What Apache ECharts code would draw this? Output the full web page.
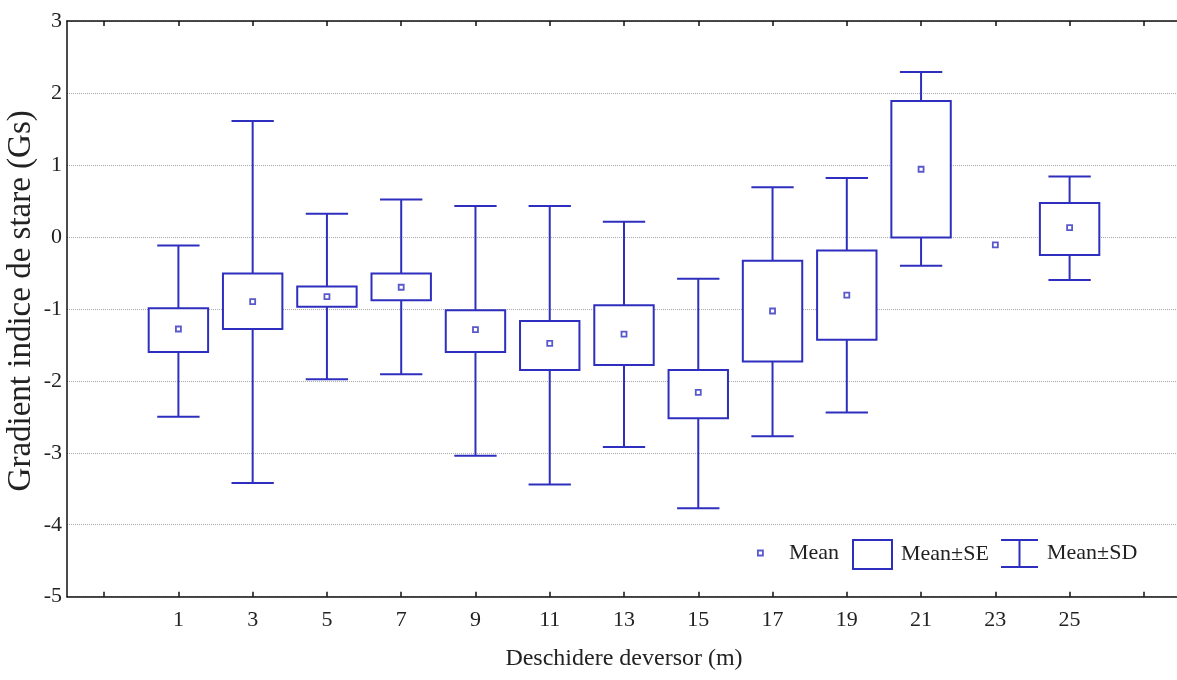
<!DOCTYPE html>
<html>
<head>
<meta charset="utf-8">
<script src="https://cdn.jsdelivr.net/npm/echarts@6/dist/echarts.min.js"></script>
<style>html,body{margin:0;padding:0;background:#fff;}#c{width:1177px;height:680px;}</style>
</head>
<body>
<div id="c"></div>
<script>
// Data
const categories = [1, 3, 5, 7, 9, 11, 13, 15, 17, 19, 21, 23, 25];
const means = [-1.28, -0.90, -0.83, -0.70, -1.29, -1.48, -1.35, -2.16, -1.03, -0.81, 0.94, -0.11, 0.13];
const seMin = [-1.60, -1.28, -0.97, -0.88, -1.60, -1.85, -1.78, -2.52, -1.73, -1.43, -0.01, null, -0.25];
const seMax = [-0.99, -0.51, -0.69, -0.51, -1.02, -1.17, -0.95, -1.85, -0.33, -0.19, 1.89, null, 0.47];
const sdMin = [-2.50, -3.42, -1.98, -1.91, -3.04, -3.44, -2.92, -3.77, -2.77, -2.44, -0.40, null, -0.60];
const sdMax = [-0.12, 1.61, 0.32, 0.52, 0.43, 0.43, 0.21, -0.58, 0.69, 0.82, 2.29, null, 0.84];
const xTicks = [-1, 1, 3, 5, 7, 9, 11, 13, 15, 17, 19, 21, 23, 25, 27];
const xLabels = categories;

const BLUE = '#2f2fbf';
const FONT = 'Liberation Serif';

const meanData = categories.map((c, i) => [c, means[i]]);
const seData = [];
const sdData = [];
categories.forEach((c, i) => {
  if (seMin[i] !== null && seMax[i] !== null) seData.push([c, seMin[i], seMax[i]]);
  if (sdMin[i] !== null && sdMax[i] !== null) sdData.push([c, sdMin[i], seMin[i], seMax[i], sdMax[i]]);
});

const chart = echarts.init(document.getElementById('c'), null, {renderer: 'canvas'});
chart.setOption({
  animation: false,
  backgroundColor: '#fff',
  grid: {left: 67, top: 21, width: 1114, height: 575.7, containLabel: false, outerBoundsMode: 'none'},
  xAxis: [{
    type: 'value', position: 'bottom', min: -2, max: 28,
    name: 'Deschidere deversor (m)', nameLocation: 'middle', nameGap: 50, nameMoveOverlap: false,
    nameTextStyle: {fontFamily: FONT, fontSize: 24, color: '#222'},
    axisLine: {show: true, onZero: false, lineStyle: {color: '#111', width: 1.5}},
    axisTick: {show: true, inside: true, length: 5, customValues: xTicks, lineStyle: {color: '#111', width: 1.5}},
    axisLabel: {show: true, customValues: xLabels, margin: 13, fontFamily: FONT, fontSize: 22, color: '#222'},
    splitLine: {show: false}
  }, {
    type: 'value', position: 'top', min: -2, max: 28,
    axisLine: {show: true, onZero: false, lineStyle: {color: '#111', width: 1.5}},
    axisTick: {show: true, inside: true, length: 5, customValues: xTicks, lineStyle: {color: '#111', width: 1.5}},
    axisLabel: {show: false},
    splitLine: {show: false}
  }],
  yAxis: {
    type: 'value', min: -5, max: 3, interval: 1,
    name: 'Gradient indice de stare (Gs)', nameLocation: 'middle', nameGap: 29, nameMoveOverlap: false,
    nameTextStyle: {fontFamily: FONT, fontSize: 33, color: '#222', padding: [0, 0, 0, 16]},
    axisLine: {show: true, onZero: false, lineStyle: {color: '#111', width: 1.5}},
    axisTick: {show: false},
    axisLabel: {margin: 5, fontFamily: FONT, fontSize: 22, color: '#222'},
    splitLine: {show: true, lineStyle: {color: '#aaa', type: 'dotted', width: 1}}
  },
  legend: [{
    data: [{name: 'Mean', icon: 'rect', itemStyle: {color: '#fff', borderColor: BLUE, borderWidth: 1.8}}],
    left: 757, top: 542, padding: 0, itemWidth: 5, itemHeight: 5,
    textStyle: {fontFamily: FONT, fontSize: 22, color: '#222', padding: [0, 0, 0, 21]}
  }, {
    data: [{name: 'Mean±SE', icon: 'rect', itemStyle: {color: '#fff', borderColor: BLUE, borderWidth: 2}}],
    left: 852, top: 539, padding: 0, itemWidth: 39, itemHeight: 29,
    textStyle: {fontFamily: FONT, fontSize: 22, color: '#222', padding: [0, 0, 0, 4]}
  }, {
    data: [{name: 'Mean±SD', icon: 'path://M0,0 H37 V2 H19.5 V27 H37 V29 H0 V27 H17.5 V2 H0 Z', itemStyle: {color: BLUE}}],
    left: 1001, top: 539, padding: 0, itemWidth: 37, itemHeight: 29,
    textStyle: {fontFamily: FONT, fontSize: 22, color: '#222', padding: [0, 0, 0, 4]}
  }],
  series: [{
    name: 'Mean±SD', type: 'custom', color: BLUE, z: 2,
    data: sdData,
    encode: {x: 0, y: [1, 2, 3, 4]},
    renderItem: function (params, api) {
      const x = api.value(0);
      const lo = api.coord([x, api.value(1)]);
      const seLo = api.coord([x, api.value(2)]);
      const seHi = api.coord([x, api.value(3)]);
      const hi = api.coord([x, api.value(4)]);
      const cw = api.size([1.14, 0])[0];
      const st = {stroke: BLUE, lineWidth: 2, fill: null};
      return {type: 'group', children: [
        {type: 'line', shape: {x1: hi[0], y1: hi[1], x2: seHi[0], y2: seHi[1]}, style: st},
        {type: 'line', shape: {x1: hi[0] - cw / 2, y1: hi[1], x2: hi[0] + cw / 2, y2: hi[1]}, style: st},
        {type: 'line', shape: {x1: seLo[0], y1: seLo[1], x2: lo[0], y2: lo[1]}, style: st},
        {type: 'line', shape: {x1: lo[0] - cw / 2, y1: lo[1], x2: lo[0] + cw / 2, y2: lo[1]}, style: st}
      ]};
    }
  }, {
    name: 'Mean±SE', type: 'custom', color: BLUE, z: 3,
    data: seData,
    encode: {x: 0, y: [1, 2]},
    renderItem: function (params, api) {
      const x = api.value(0);
      const top = api.coord([x, api.value(2)]);
      const bot = api.coord([x, api.value(1)]);
      const w = api.size([1.6, 0])[0];
      return {type: 'rect', shape: {x: top[0] - w / 2, y: top[1], width: w, height: bot[1] - top[1]},
        style: {fill: '#fff', stroke: BLUE, lineWidth: 2}};
    }
  }, {
    name: 'Mean', type: 'scatter', z: 5,
    data: meanData,
    symbol: 'rect', symbolSize: 5,
    itemStyle: {color: '#fff', borderColor: BLUE, borderWidth: 1.8}
  }]
});
</script>
</body>
</html>
